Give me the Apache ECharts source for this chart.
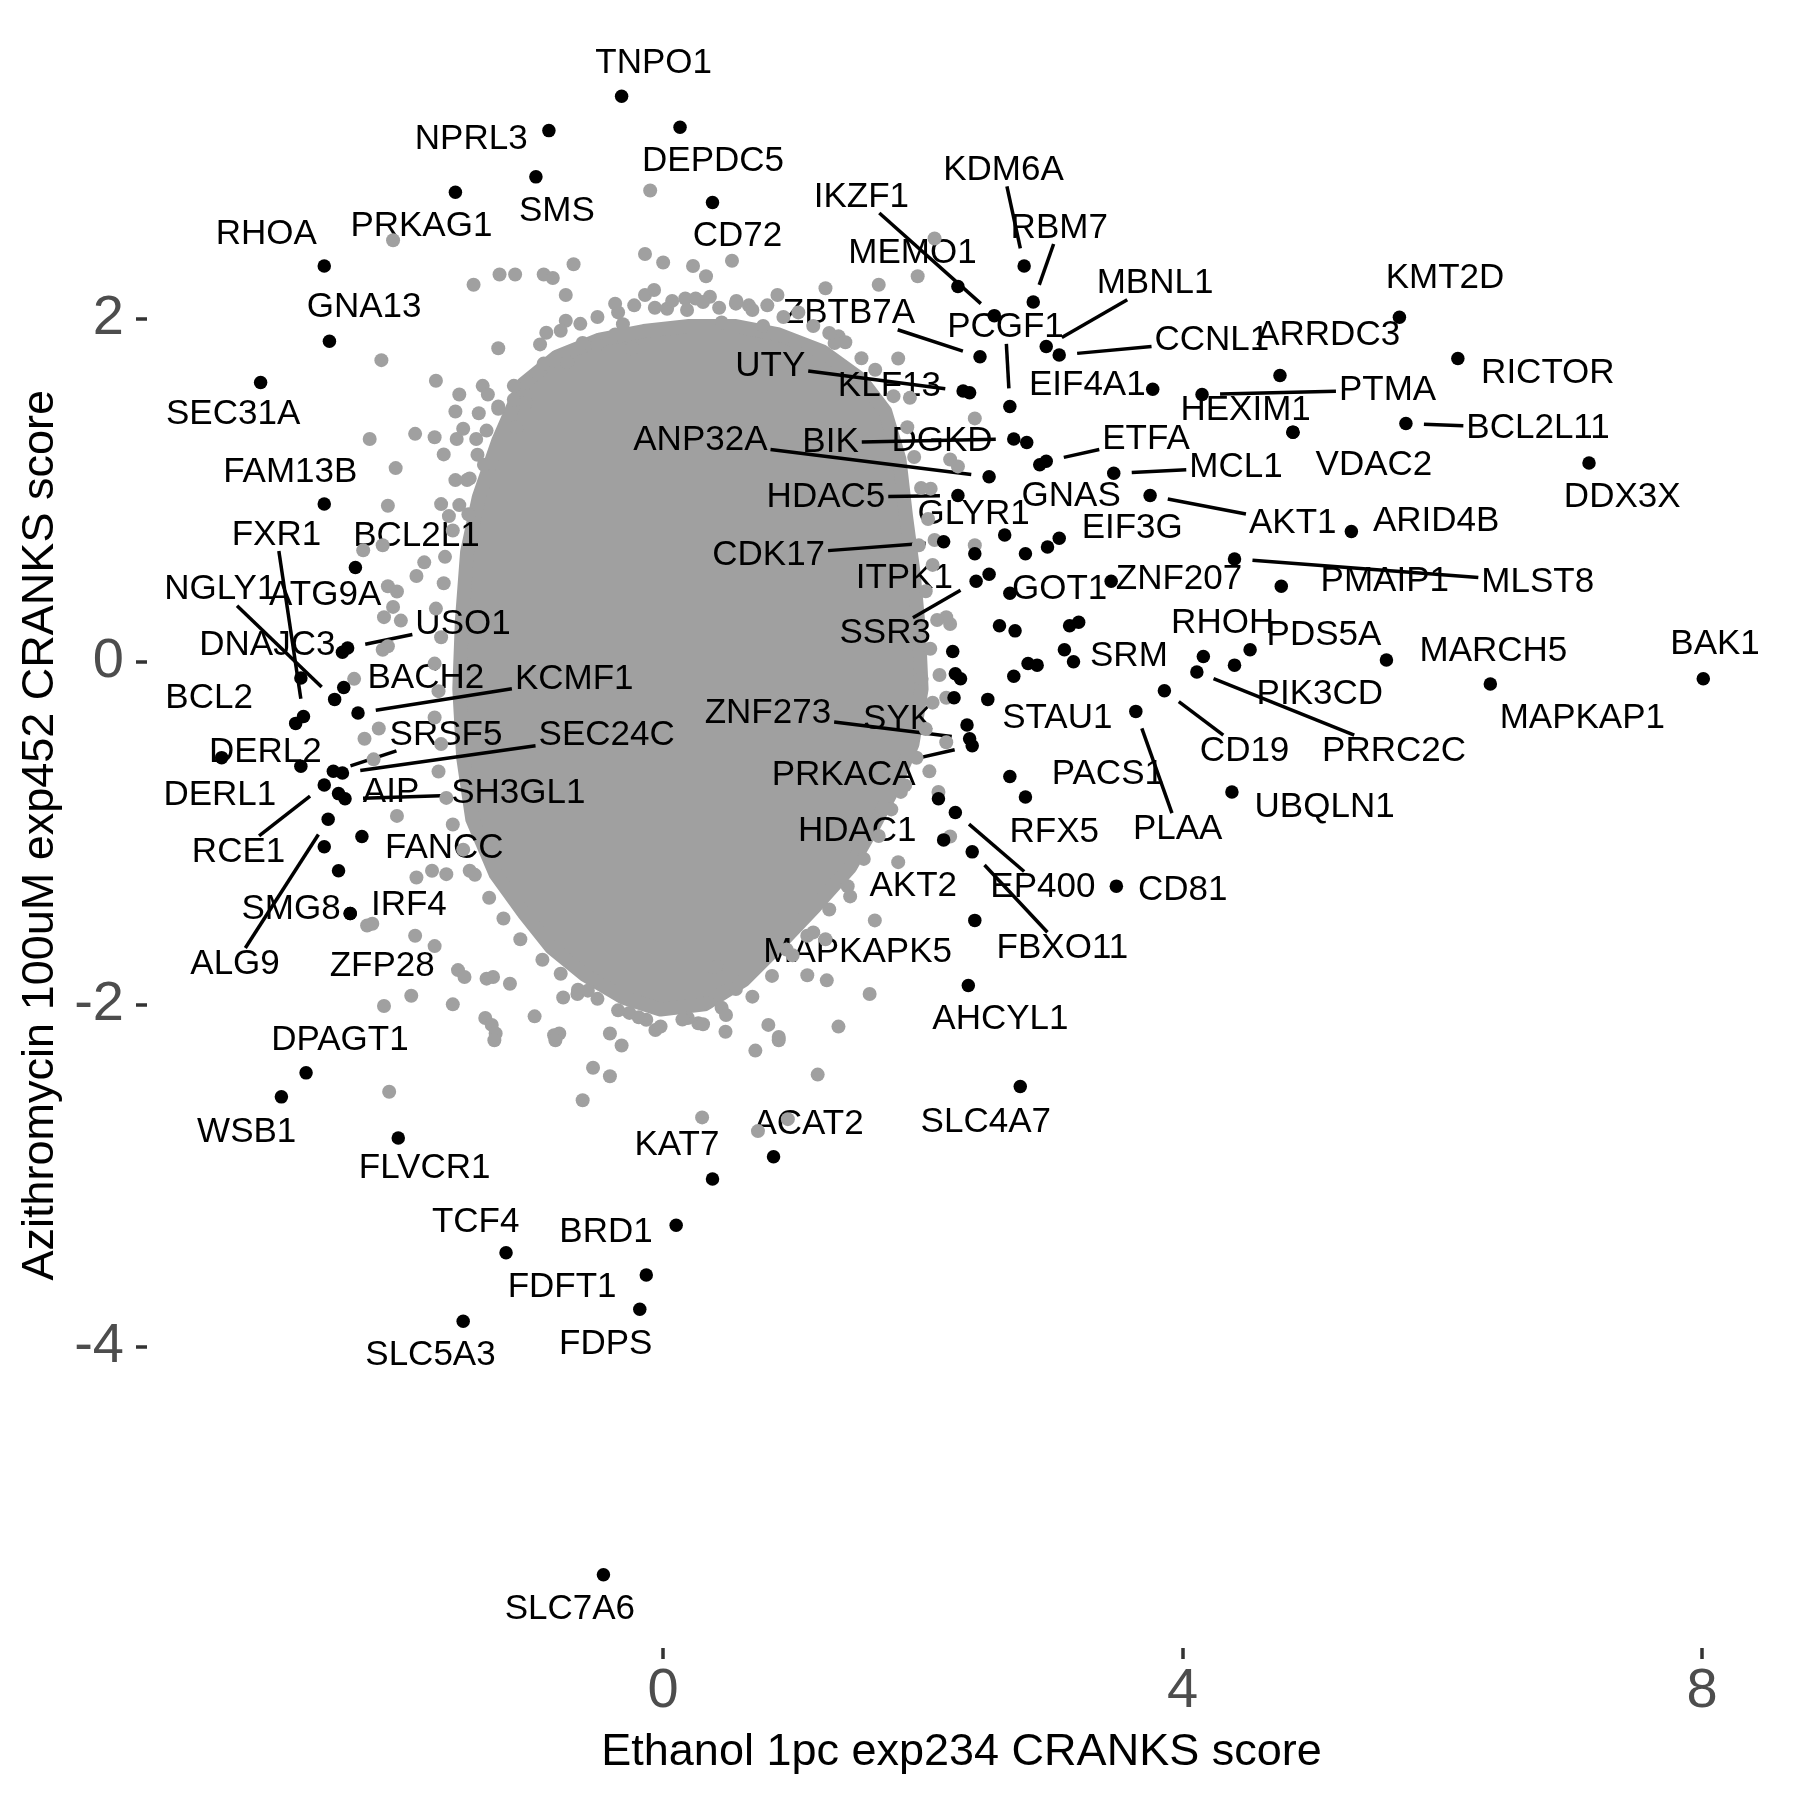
<!DOCTYPE html>
<html><head><meta charset="utf-8">
<script src="https://cdn.jsdelivr.net/npm/echarts@6/dist/echarts.min.js"></script>
<style>html,body{margin:0;padding:0;background:#fff}#c{width:1800px;height:1800px}</style>
</head><body><div id="c"></div>
<script>
// ---------- data ----------
const xTicks = [0, 4, 8];
const yTicks = [-4, -2, 0, 2];
const xTitle = 'Ethanol 1pc exp234 CRANKS score';
const yTitle = 'Azithromycin 100uM exp452 CRANKS score';

// highlighted genes (black points)
const hitGene = ['TNPO1','NPRL3','DEPDC5','SMS','PRKAG1','CD72','RHOA','GNA13','SEC31A','FAM13B','BCL2L1','USO1','DNAJC3','ATG9A','NGLY1','BACH2','KCMF1','BCL2','FXR1','DERL1','DERL2','SRSF5','SEC24C','RCE1','AIP','SH3GL1','ALG9','FANCC','','IRF4','SMG8','ZFP28','DPAGT1','WSB1','FLVCR1','TCF4','SLC5A3','BRD1','FDFT1','FDPS','KAT7','ACAT2','SLC4A7','SLC7A6','AHCYL1','MAPKAPK5','FBXO11','EP400','AKT2','HDAC1','CD81','RFX5','PACS1','PLAA','CD19','UBQLN1','PRRC2C','RHOH','PIK3CD','PDS5A','MARCH5','MAPKAP1','BAK1','STAU1','SRM','','SYK','ZNF273','PRKACA','','','','','','','','','','','','ITPK1','SSR3','GOT1','ZNF207','MLST8','PMAIP1','ARID4B','DDX3X','HEXIM1','VDAC2','BCL2L11','RICTOR','KMT2D','ARRDC3','PTMA','EIF4A1','CCNL1','MBNL1','RBM7','KDM6A','MEMO1','IKZF1','ZBTB7A','UTY','KLF13','PCGF1','BIK','DGKD','ETFA','GNAS','MCL1','ANP32A','HDAC5','AKT1','GLYR1','EIF3G','','','CDK17',''];
const hitX = [-0.32,-0.88,0.13,-0.98,-1.60,0.38,-2.61,-2.57,-3.10,-2.61,-2.37,-2.43,-2.47,-2.79,-2.53,-2.46,-2.35,-2.83,-2.77,-3.40,-2.79,-2.54,-2.47,-2.61,-2.50,-2.45,-2.58,-2.32,-2.61,-2.50,-2.41,-2.41,-2.75,-2.94,-2.04,-1.21,-1.54,0.10,-0.13,-0.18,0.38,0.85,2.75,-0.46,2.35,2.40,2.38,2.25,2.16,2.12,3.49,2.79,2.67,3.64,3.86,4.38,4.11,4.16,4.40,4.52,5.57,6.37,8.01,2.50,3.16,3.09,2.34,2.36,2.38,2.23,2.25,2.29,2.24,2.59,2.71,3.13,3.20,2.70,2.81,2.88,2.51,2.41,2.67,3.45,4.40,4.76,5.30,7.13,4.85,4.85,5.72,6.12,5.67,4.75,4.15,3.77,3.05,2.95,2.85,2.78,2.27,2.55,2.44,2.31,2.36,2.67,2.70,2.80,2.95,2.90,3.47,2.51,2.27,3.75,2.63,3.05,2.96,2.79,2.16,2.40];
const hitY = [3.30,3.10,3.12,2.83,2.74,2.68,2.31,1.87,1.63,0.92,0.55,0.08,0.055,-0.095,-0.22,-0.15,-0.30,-0.36,-0.32,-0.56,-0.61,-0.64,-0.65,-0.72,-0.77,-0.80,-0.92,-1.02,-1.08,-1.22,-1.47,-1.47,-2.40,-2.54,-2.78,-3.45,-3.85,-3.29,-3.58,-3.78,-3.02,-2.89,-2.48,-5.33,-1.89,-1.51,-1.11,-0.88,-1.04,-0.80,-1.31,-0.79,-0.67,-0.29,-0.17,-0.76,-0.06,0.03,-0.02,0.07,0.01,-0.13,-0.10,-0.22,0.00,0.07,-0.37,-0.45,-0.49,0.06,-0.07,-0.10,-0.21,0.21,0.18,0.21,0.23,-0.085,-0.01,-0.02,0.51,0.47,0.40,0.47,0.60,0.44,0.76,1.16,1.34,1.34,1.39,1.77,2.01,1.67,1.56,1.59,1.79,1.84,2.10,2.31,2.19,2.02,1.78,1.58,1.57,1.49,1.30,1.28,1.17,1.15,1.10,1.08,0.97,0.97,0.74,0.72,0.67,0.63,0.70,0.63];

// background genes: outline of the solid central mass, then the scattered grey points
const coreX = [-1.08,-0.82,-0.49,-0.15,0.20,0.55,0.89,1.23,1.52,1.71,1.82,1.87,1.93,1.97,1.99,1.92,1.78,1.62,1.44,1.17,0.87,0.62,0.32,-0.02,-0.31,-0.60,-0.86,-1.07,-1.29,-1.47,-1.54,-1.57,-1.55,-1.51,-1.42,-1.27];
const coreY = [1.62,1.78,1.88,1.93,1.96,1.96,1.91,1.81,1.65,1.46,1.18,0.85,0.51,0.18,-0.16,-0.48,-0.73,-0.96,-1.20,-1.43,-1.67,-1.86,-2.00,-2.03,-1.96,-1.83,-1.67,-1.47,-1.24,-0.92,-0.56,-0.16,0.24,0.64,0.96,1.29];
const bgX = [-0.10,-2.08,-1.46,-1.26,-1.14,-0.92,-0.85,-0.69,-0.14,0.00,0.23,0.33,-0.75,-0.37,-0.14,-0.07,0.17,0.25,0.03,-0.75,-0.90,-0.31,-1.27,-2.17,-1.75,-0.37,-0.24,-0.62,-0.51,-0.92,-0.74,-1.05,-1.39,-1.35,-1.57,-1.15,-1.06,-1.60,-1.42,-1.27,-2.26,-1.91,-1.76,-1.59,-1.44,-1.54,-1.69,-1.13,-2.06,-1.60,-1.49,-1.38,-2.12,-1.71,-1.65,-1.50,-2.31,-2.16,-1.90,-1.84,-2.12,0.53,0.36,1.66,1.96,2.09,1.25,0.88,0.56,0.66,0.45,0.77,1.35,1.32,1.81,1.02,1.90,2.40,2.21,2.27,2.06,2.09,2.40,-2.05,-2.15,-2.08,-2.02,-2.16,-2.12,-2.38,-2.30,-2.19,-2.23,-2.05,-2.28,-2.24,-1.91,-1.76,-1.90,-1.78,-1.67,-1.94,-2.15,-1.62,-1.58,-1.53,-1.36,-1.31,-1.18,-1.37,-1.32,-1.29,-0.99,-0.84,-0.80,-0.77,-0.66,-0.58,-0.41,-0.32,-0.54,-0.41,-0.62,-2.11,-0.06,-0.13,-0.26,0.27,0.19,-1.49,-0.83,-1.30,0.30,0.71,0.89,1.19,0.73,0.96,2.21,2.18,1.99,2.18,2.18,2.05,2.12,1.83,2.21,1.81,1.44,1.63,1.11,1.26,1.59,1.35,0.81,0.89,0.48,0.34,0.45,0.56,1.11,1.25,0.95,0.37,0.41,
  -0.948,-0.789,-0.638,-0.506,-0.347,-0.223,-0.064,0.069,0.184,0.307,0.431,0.564,0.687,0.802,0.926,1.041,1.156,1.279,1.403,1.527,1.633,
  1.774,1.880,1.933,1.986,2.040,1.969,2.075,2.022,2.110,2.057,2.128,2.075,2.022,1.951,1.863,1.757,1.660,1.545,1.421,1.279,1.156,0.997,0.838,0.687,
  0.484,0.307,0.148,-0.020,-0.188,-0.347,-0.506,-0.656,-0.789,-0.930,
  -1.10,-1.23,-1.34,-1.45,-1.54,-1.62,-1.67,-1.73,-1.71,-1.76,-1.73,-1.76,-1.71,-1.75,-1.69,-1.68,-1.62,-1.57,-1.51,-1.43,-1.36,-1.27,-1.15];
const bgY = [2.75,2.46,2.20,2.26,2.26,2.26,2.24,2.32,2.38,2.33,2.31,2.25,2.14,2.09,2.14,2.17,2.12,2.12,2.06,1.99,1.92,1.97,1.83,1.76,1.64,1.91,1.83,1.86,1.85,1.74,1.75,1.63,1.61,1.56,1.56,1.53,1.51,1.46,1.45,1.49,1.30,1.33,1.31,1.30,1.30,1.36,1.21,1.37,1.13,1.06,1.07,1.15,0.91,0.92,0.85,0.86,0.65,0.68,0.50,0.58,0.44,2.34,2.13,2.20,2.25,2.47,2.18,2.14,2.09,2.08,1.98,1.96,1.90,1.86,1.77,1.85,1.54,1.42,1.18,1.14,1.01,0.71,0.68,0.41,0.26,0.32,0.24,0.07,0.09,-0.10,-0.45,-0.39,-0.57,-0.90,-1.54,-1.53,-1.60,-1.66,-1.26,-1.22,-1.24,-1.95,-2.01,-2.00,-1.80,-1.84,-1.85,-1.84,-1.88,-2.08,-2.12,-2.17,-2.07,-2.18,-2.17,-1.96,-1.94,-1.92,-2.17,-2.24,-2.37,-2.42,-2.56,-2.51,-2.15,-2.09,-2.05,-2.11,-2.08,-1.22,-2.21,-2.21,-2.66,-2.27,-2.21,-2.41,-2.74,-2.67,0.22,0.26,-0.10,-0.21,-0.47,-0.64,-0.76,-0.76,-1.02,-1.17,-1.37,-1.51,-1.83,-1.86,-1.94,-2.13,-2.12,-2.19,-2.16,-1.99,-2.02,-1.91,-1.60,-1.62,-1.68,-1.78,-1.78,
  1.852,1.932,1.972,2.012,2.039,2.080,2.066,2.106,2.053,2.100,2.066,2.106,2.053,2.080,2.012,2.039,1.959,1.919,1.865,1.771,1.704,
  1.550,1.369,1.195,1.014,0.833,0.679,0.565,0.411,0.243,0.076,-0.078,-0.239,-0.393,-0.561,-0.722,-0.862,-1.017,-1.151,-1.311,-1.446,-1.580,-1.714,-1.834,-1.955,
  -2.062,-2.116,-2.089,-2.129,-2.076,-2.035,-1.968,-1.915,-1.821,-1.740,
  -1.620,-1.499,-1.378,-1.244,-1.097,-0.950,-0.795,-0.641,-0.481,-0.326,-0.172,-0.011,0.143,0.310,0.458,0.612,0.766,0.914,1.061,1.208,1.349,1.476,1.610];

// ---------- label layout (pixel offset of label centre from its point, segment flag) ----------
const labelLayout = {
TNPO1:[32,-32.5,0],NPRL3:[-77.7,8.5,0],DEPDC5:[33,33.8,0],SMS:[21,34,0],PRKAG1:[-34,34,0],CD72:[25,34,0],RHOA:[-58,-32,0],GNA13:[34.6,-34,0],SEC31A:[-27.5,32,0],FAM13B:[-34,-32,0],BCL2L1:[61,-31,0],
FXR1:[-27,-181.6,1],NGLY1:[-114.3,-109.6,1],ATG9A:[24.3,-83.1,0],USO1:[115.4,-24.1,1],DNAJC3:[-75.1,-7.3,0],BCL2:[-86.6,-25,0],BACH2:[82.1,-9.2,0],KCMF1:[216.2,-34.2,1],SRSF5:[112.6,-36.4,1],SEC24C:[264.2,-37.5,1],
DERL2:[-35.5,-14.3,0],DERL1:[-1.8,37.5,0],AIP:[52.5,-0.8,0],SH3GL1:[173.3,-5.6,1],RCE1:[-85.7,66.8,1],ALG9:[-93.1,144.7,1],FANCC:[82.4,11.8,0],IRF4:[70.3,34.6,0],SMG8:[-59.1,-4.7,0],ZFP28:[32,52.5,0],
DPAGT1:[33.9,-33,0],WSB1:[-34.7,35.2,0],FLVCR1:[26.4,30.6,0],TCF4:[-30.4,-30.2,0],SLC5A3:[-32.7,34.4,0],BRD1:[-70.1,6.6,0],FDFT1:[-84.2,12.2,0],FDPS:[-34.1,35.5,0],KAT7:[-35.6,-33.3,0],ACAT2:[35,-32.8,0],SLC4A7:[-34.5,35.6,0],SLC7A6:[-33.6,34.4,0],
AHCYL1:[32.1,33.9,0],MAPKAPK5:[-117.2,32,0],FBXO11:[90.2,96.4,1],EP400:[87.5,75,1],AKT2:[-30.4,46.4,0],HDAC1:[-81.25,32.1,0],CD81:[66.4,4.7,0],RFX5:[28.8,35,0],PACS1:[98,-2.6,0],PLAA:[41.8,117.8,1],CD19:[80.2,60.2,1],
UBQLN1:[92.7,15.9,0],PRRC2C:[197.2,79.2,1],RHOH:[19.3,-33.3,0],PIK3CD:[85.3,29.6,0],PDS5A:[73.9,-14.6,0],MARCH5:[107,-9.1,0],MAPKAP1:[92,34.8,0],BAK1:[11.8,-34.1,0],STAU1:[69.5,18.5,0],SRM:[55.4,-5.4,0],
SYK:[-68.9,-6.1,0],ZNF273:[-201.7,-25,1],PRKACA:[-128.5,29.5,1],ITPK1:[-84.8,3.6,0],SSR3:[-90.9,52.5,1],GOT1:[49.8,-4.3,0],ZNF207:[67.9,-2,0],MLST8:[303.2,23,1],PMAIP1:[103.5,-5.3,0],ARID4B:[84.8,-10,0],
DDX3X:[33.2,34.1,0],HEXIM1:[-47.3,-21.9,0],VDAC2:[81,33.1,0],BCL2L11:[132.1,5.2,1],RICTOR:[90,15.2,0],KMT2D:[45.6,-39.4,0],ARRDC3:[48.2,-40.2,0],PTMA:[185.5,-4.3,1],EIF4A1:[-65.4,-3.6,0],CCNL1:[152.7,-14.2,1],
MBNL1:[108.8,-62.7,1],RBM7:[26,-73.9,1],KDM6A:[-20.7,-95.5,1],MEMO1:[-45.5,-33,0],IKZF1:[-132.9,-118.7,1],ZBTB7A:[-131.1,-43,1],UTY:[-192.9,-25,1],KLF13:[-80.2,-6.5,0],PCGF1:[-4.4,-78.6,1],BIK:[-183.2,3.6,1],
DGKD:[-84.8,-1.1,0],ETFA:[99.8,-22.1,1],GNAS:[31.4,32,0],MCL1:[122.2,-5.7,1],ANP32A:[-288.7,-36,1],HDAC5:[-132,1.7,1],AKT1:[142.6,27.4,1],GLYR1:[-31.1,-20.5,0],EIF3G:[73,-9.7,0],CDK17:[-175,13.4,1]
};

// ---------- build ----------
const FONT_FAMILY = '"Liberation Sans", Arial, Helvetica, sans-serif';
const LABEL_FONT = '35px ' + FONT_FAMILY;
const GREY = '#A0A0A0';
const mctx = document.createElement('canvas').getContext('2d');
mctx.font = LABEL_FONT;

const labels = [];
hitGene.forEach((g, i) => {
  if (g && labelLayout[g]) {
    const l = labelLayout[g];
    labels.push({name: g, x: hitX[i], y: hitY[i], dx: l[0], dy: l[1], seg: l[2], w: mctx.measureText(g).width});
  }
});

const chart = echarts.init(document.getElementById('c'), null, {renderer: 'canvas'});
chart.setOption({
  animation: false,
  backgroundColor: '#ffffff',
  grid: {left: 147, right: 24, top: 22.5, bottom: 152, containLabel: false},
  xAxis: {
    type: 'value', min: -3.975, max: 8.57,
    axisLine: {show: false, onZero: false}, splitLine: {show: false},
    axisTick: {show: true, customValues: xTicks, length: 11, lineStyle: {color: '#333333', width: 3.5}},
    axisLabel: {customValues: xTicks, fontSize: 56, color: '#4D4D4D', margin: 16, fontFamily: FONT_FAMILY},
    name: xTitle, nameLocation: 'middle', nameGap: 82,
    nameTextStyle: {fontSize: 45, color: '#000000', fontFamily: FONT_FAMILY}
  },
  yAxis: {
    type: 'value', min: -5.757, max: 3.731,
    axisLine: {show: false, onZero: false}, splitLine: {show: false},
    axisTick: {show: true, customValues: yTicks, length: 11, lineStyle: {color: '#333333', width: 3.5}},
    axisLabel: {customValues: yTicks, fontSize: 56, color: '#4D4D4D', margin: 23, fontFamily: FONT_FAMILY},
    name: yTitle, nameLocation: 'middle', nameGap: 78, nameRotate: 90,
    nameTextStyle: {fontSize: 45, color: '#000000', fontFamily: FONT_FAMILY}
  },
  series: [
    {
      type: 'custom', name: 'core', silent: true,
      data: [[coreX[0], coreY[0]]],
      encode: {x: 0, y: 1},
      renderItem: function (params, api) {
        const pts = coreX.map((x, i) => api.coord([x, coreY[i]]));
        return {type: 'polygon', shape: {points: pts},
          style: {fill: GREY, stroke: GREY, lineWidth: 14, lineJoin: 'round'}};
      }
    },
    {
      type: 'scatter', name: 'background', silent: true,
      data: bgX.map((x, i) => [x, bgY[i]]),
      symbolSize: 14, itemStyle: {color: GREY, opacity: 1}
    },
    {
      type: 'scatter', name: 'hits', silent: true,
      data: hitX.map((x, i) => [x, hitY[i]]),
      symbolSize: 13.5, itemStyle: {color: '#000000', opacity: 1}
    },
    {
      type: 'custom', name: 'labels', silent: true, clip: false,
      data: labels.map(l => [l.x, l.y]),
      encode: {x: 0, y: 1},
      renderItem: function (params, api) {
        const L = labels[params.dataIndex];
        const p = api.coord([L.x, L.y]);
        const cx = p[0] + L.dx, cy = p[1] + L.dy;
        const children = [];
        if (L.seg) {
          const vx = p[0] - cx, vy = p[1] - cy;
          const hw = L.w / 2 + 3, hh = 16;
          const t = Math.min(vx !== 0 ? hw / Math.abs(vx) : 1e9, vy !== 0 ? hh / Math.abs(vy) : 1e9);
          const sx = cx + vx * t, sy = cy + vy * t;
          const d = Math.hypot(vx, vy);
          const ex = p[0] - vx / d * 18, ey = p[1] - vy / d * 18;
          if ((ex - sx) * vx + (ey - sy) * vy > 0) {
            children.push({type: 'line', shape: {x1: sx, y1: sy, x2: ex, y2: ey},
              style: {stroke: '#000000', lineWidth: 3.5}});
          }
        }
        children.push({type: 'text', style: {text: L.name, x: cx, y: cy, align: 'center', verticalAlign: 'middle',
          font: LABEL_FONT, fill: '#000000'}});
        return {type: 'group', children: children};
      }
    }
  ]
});
</script></body></html>
